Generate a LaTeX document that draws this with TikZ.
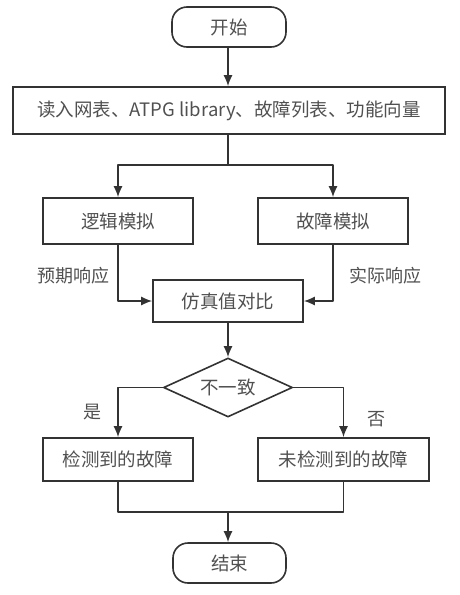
\documentclass[tikz,border=0pt]{standalone}
\usepackage{fontspec}
\setmainfont{Noto Sans CJK SC}
\usetikzlibrary{arrows.meta,shapes.geometric}
\definecolor{linegray}{HTML}{333333}
\definecolor{textgray}{HTML}{505050}
\tikzset{>={Latex[length=11pt,width=9pt]}}
\tikzset{
    flow/.style={draw=linegray, line width=1.6pt, text=textgray, font=\fontsize{18.5}{21}\selectfont, inner sep=0pt},
    box/.style={flow, rectangle},
    terminal/.style={flow, rectangle, rounded corners=15pt},
    decision/.style={flow, diamond, aspect=2.2},
    lbl/.style={text=textgray, font=\fontsize{18}{21}\selectfont, inner sep=0pt},
    link/.style={draw=linegray, line width=1.6pt, line join=round}
}

\begin{document}
\begin{tikzpicture}[x=1pt, y=-1pt]
    \useasboundingbox (0,0) rectangle (459,595);
    % nodes
    \node[terminal, minimum width=114pt, minimum height=40pt] (start) at (229,27) {开始};
    \node[box, minimum width=432pt, minimum height=47pt] (input) at (229,110.5) {读入网表、ATPG library、故障列表、功能向量};
    \node[box, minimum width=150pt, minimum height=46pt] (logic) at (118,221) {逻辑模拟};
    \node[box, minimum width=150pt, minimum height=46pt] (fault) at (333,221) {故障模拟};
    \node[box, minimum width=150pt, minimum height=42pt] (compare) at (228,301) {仿真值对比};
    \node[decision, minimum width=129pt, minimum height=59pt] (diff) at (228,387.5) {不一致};
    \node[box, minimum width=150pt, minimum height=43pt] (found) at (118,459.5) {检测到的故障};
    \node[box, minimum width=171pt, minimum height=43pt] (missed) at (343.5,459.5) {未检测到的故障};
    \node[terminal, minimum width=113pt, minimum height=40pt] (stop) at (229.5,563) {结束};
    \coordinate (split) at (228,165);
    \coordinate (join) at (228,512);

    % connectors
    \draw[link,->] (start.south -| 228,0) -- (input.north -| 228,0);
    \draw[link,->] (input.south -| split) -- (split) -| (logic.north);
    \draw[link,->] (split) -| (fault.north);
    \draw[link,->] (logic.south) |- (compare.west) node[lbl, pos=0.27, left=8pt] {预期响应};
    \draw[link,->] (fault.south) |- (compare.east) node[lbl, pos=0.27, right=16pt] {实际响应};
    \draw[link,->] (compare.south) -- (diff.north);
    \draw[link,->] (diff.west) -| (found.north) node[lbl, pos=0.75, left=16pt] {是};
    \draw[link,->] (diff.east) -| (missed.north) node[lbl, pos=0.82, right=23pt] {否};
    \draw[link] (found.south) |- (join) -| (missed.south);
    \draw[link,->] (join) -- (stop.north -| join);
\end{tikzpicture}
\end{document}
